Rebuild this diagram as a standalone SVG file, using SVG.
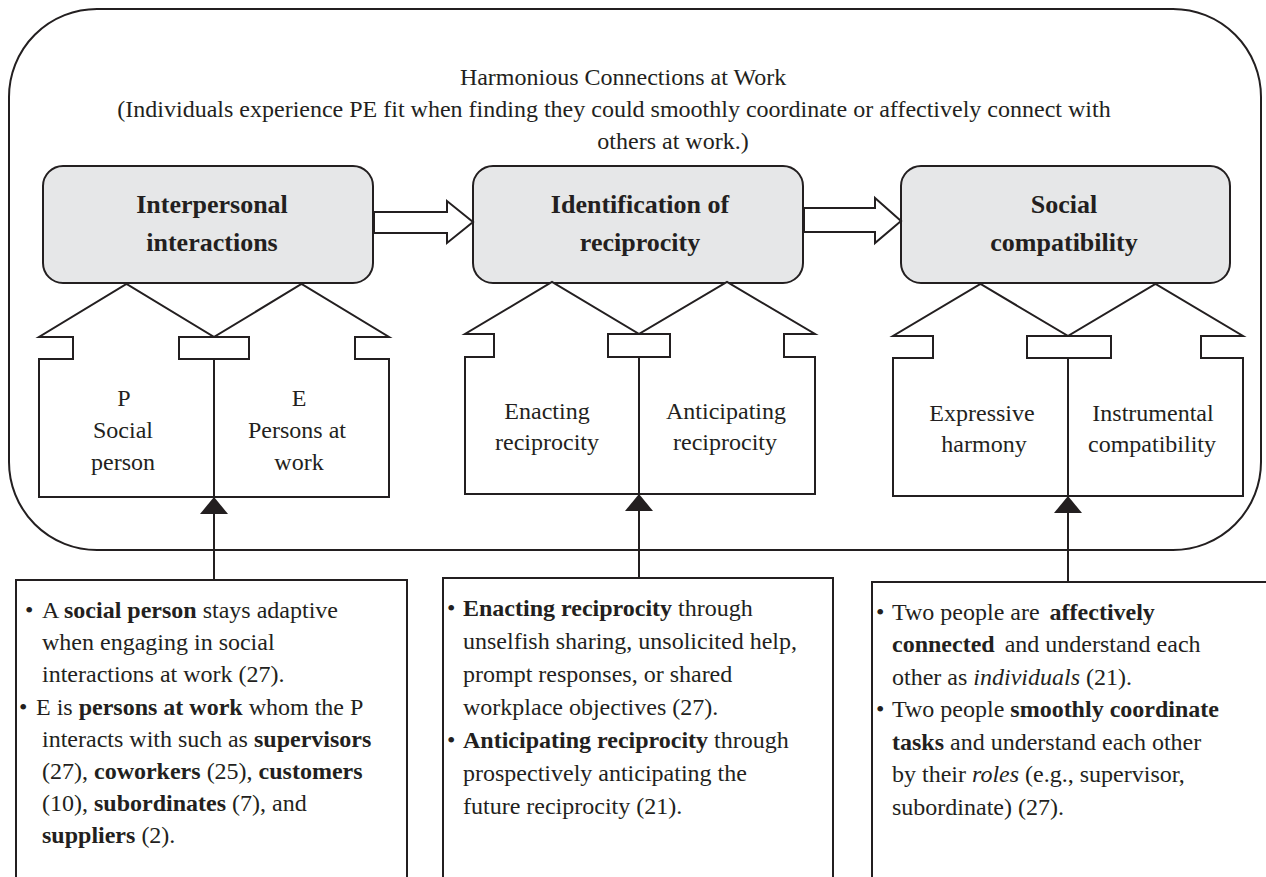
<svg xmlns="http://www.w3.org/2000/svg" width="1266" height="877" viewBox="0 0 1266 877">
<style>
text{font-family:"Liberation Serif","Times New Roman",serif;fill:#231f20}
.h{font-size:24px}
.t{font-size:26px;font-weight:bold;text-anchor:middle}
.m{font-size:24px;text-anchor:middle}
.b{font-size:24px}
.bd{font-weight:bold}
.it{font-style:italic}
.ln{fill:none;stroke:#231f20;stroke-width:2}
.hs{fill:#fff;stroke:#231f20;stroke-width:2;stroke-linejoin:miter}
.tb{fill:#e6e7e8;stroke:#231f20;stroke-width:2}
.bx{fill:#fff;stroke:#231f20;stroke-width:2}
.ar{fill:#fff;stroke:#231f20;stroke-width:2}
.tri{fill:#231f20}
</style>
<rect width="1266" height="877" fill="#fff"/>
<g id="container">
<rect class="ln" x="9" y="9" width="1252" height="541" rx="88" ry="88"/>
<text class="h" x="623" y="85" text-anchor="middle">Harmonious Connections at Work</text>
<text class="h" x="614" y="117" text-anchor="middle">(Individuals experience PE fit when finding they could smoothly coordinate or affectively connect with</text>
<text class="h" x="673" y="149" text-anchor="middle">others at work.)</text>
</g>
<g id="box-interpersonal">
<rect class="tb" x="43" y="166" width="330" height="117" rx="20"/>
<text class="t" x="212" y="213">Interpersonal</text>
<text class="t" x="212" y="251">interactions</text>
</g>
<g id="box-identification">
<rect class="tb" x="473" y="166" width="330" height="117" rx="20"/>
<text class="t" x="640" y="213">Identification of</text>
<text class="t" x="640" y="251">reciprocity</text>
</g>
<g id="box-social">
<rect class="tb" x="901" y="166" width="329" height="117" rx="20"/>
<text class="t" x="1064" y="213">Social</text>
<text class="t" x="1064" y="251">compatibility</text>
</g>
<g id="house-P">
<path class="hs" d="M39,497 V359 H73 V337 H39 L126.5,284 L214,337 H179 V359 H214 V497 Z"/>
<text class="m" x="124" y="406">P</text>
<text class="m" x="123" y="438">Social</text>
<text class="m" x="123" y="470">person</text>
</g>
<g id="house-E">
<path class="hs" d="M214,497 V359 H249 V337 H214 L301.5,284 L389,337 H355 V359 H389 V497 Z"/>
<text class="m" x="299" y="406">E</text>
<text class="m" x="297" y="438">Persons at</text>
<text class="m" x="299" y="470">work</text>
</g>
<g id="house-enacting">
<path class="hs" d="M465,494 V357 H494 V334 H465 L552,282 L639,334 H608 V357 H639 V494 Z"/>
<text class="m" x="547" y="419">Enacting</text>
<text class="m" x="547" y="450">reciprocity</text>
</g>
<g id="house-anticipating">
<path class="hs" d="M639,494 V357 H670 V334 H639 L727,282 L815,334 H784 V357 H815 V494 Z"/>
<text class="m" x="726" y="419">Anticipating</text>
<text class="m" x="725" y="450">reciprocity</text>
</g>
<g id="house-expressive">
<path class="hs" d="M893,496 V358 H933 V336 H893 L980.5,284 L1068,336 H1027 V358 H1068 V496 Z"/>
<text class="m" x="982" y="421">Expressive</text>
<text class="m" x="984" y="452">harmony</text>
</g>
<g id="house-instrumental">
<path class="hs" d="M1068,496 V358 H1111 V336 H1068 L1155.5,284 L1243,336 H1201 V358 H1243 V496 Z"/>
<text class="m" x="1153" y="421">Instrumental</text>
<text class="m" x="1152" y="452">compatibility</text>
</g>
<g id="connectors">
<polygon class="ar" points="374,212 447,212 447,201 473,222 447,243 447,233 374,233"/>
<polygon class="ar" points="804,208 875,208 875,198 901,221 875,243 875,232 804,232"/>
<line class="ln" x1="214" y1="359" x2="214" y2="580" stroke-width="2.5"/>
<polygon class="tri" points="214,497 200,514 228,514"/>
<line class="ln" x1="639" y1="357" x2="639" y2="578" stroke-width="2.5"/>
<polygon class="tri" points="639,494 625,511 653,511"/>
<line class="ln" x1="1068" y1="358" x2="1068" y2="582" stroke-width="2.5"/>
<polygon class="tri" points="1068,496 1054,513 1082,513"/>
</g>
<g id="text-box-1">
<rect class="bx" x="16" y="580" width="391" height="310"/>
<text class="b" x="25" y="618">• <tspan x="42">A </tspan><tspan class="bd">social person</tspan> stays adaptive</text>
<text class="b" x="42" y="650">when engaging in social</text>
<text class="b" x="42" y="682">interactions at work (27).</text>
<text class="b" x="19" y="715">•<tspan x="36">E is </tspan><tspan class="bd">persons at work</tspan> whom the P</text>
<text class="b" x="42" y="747">interacts with such as <tspan class="bd">supervisors</tspan></text>
<text class="b" x="42" y="779">(27), <tspan class="bd">coworkers</tspan> (25), <tspan class="bd">customers</tspan></text>
<text class="b" x="42" y="811">(10), <tspan class="bd">subordinates</tspan> (7), and</text>
<text class="b" x="42" y="843"><tspan class="bd">suppliers</tspan> (2).</text>
</g>
<g id="text-box-2">
<rect class="bx" x="443" y="578" width="390" height="312"/>
<text class="b" x="447" y="616">•<tspan x="463" class="bd">Enacting reciprocity</tspan> through</text>
<text class="b" x="463" y="649">unselfish sharing, unsolicited help,</text>
<text class="b" x="463" y="682">prompt responses, or shared</text>
<text class="b" x="463" y="715">workplace objectives (27).</text>
<text class="b" x="447" y="748">•<tspan x="463" class="bd">Anticipating reciprocity</tspan> through</text>
<text class="b" x="463" y="781">prospectively anticipating the</text>
<text class="b" x="463" y="814">future reciprocity (21).</text>
</g>
<g id="text-box-3">
<rect class="bx" x="872" y="582" width="400" height="308"/>
<text class="b" x="876" y="620">•<tspan x="892">Two people are </tspan><tspan class="bd" dx="4">affectively</tspan></text>
<text class="b" x="892" y="652"><tspan class="bd">connected</tspan><tspan dx="4"> and understand each</tspan></text>
<text class="b" x="892" y="685">other as <tspan class="it">individuals</tspan> (21).</text>
<text class="b" x="876" y="717">•<tspan x="892">Two people </tspan><tspan class="bd">smoothly coordinate</tspan></text>
<text class="b" x="892" y="750"><tspan class="bd">tasks</tspan> and understand each other</text>
<text class="b" x="892" y="782">by their <tspan class="it">roles</tspan> (e.g., supervisor,</text>
<text class="b" x="892" y="815">subordinate) (27).</text>
</g>
</svg>
